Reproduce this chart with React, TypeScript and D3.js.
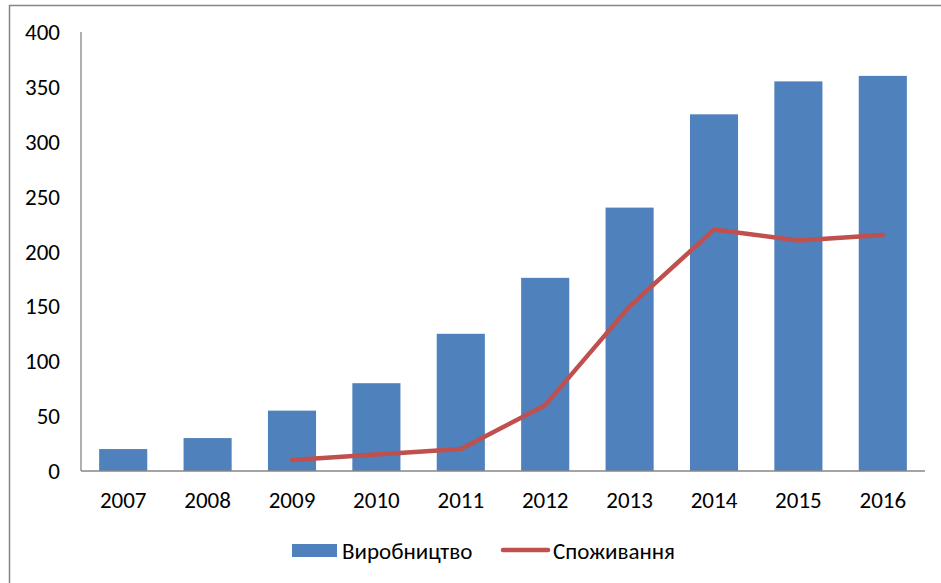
import React from "react";
import * as d3 from "d3";

const years = ["2007", "2008", "2009", "2010", "2011", "2012", "2013", "2014", "2015", "2016"];
const production = [20, 30, 55, 80, 125, 176, 240, 325, 355, 360];
const consumptionYears = ["2009", "2010", "2011", "2012", "2013", "2014", "2015", "2016"];
const consumption = [10, 15, 20, 60, 150, 220, 210, 215];
const yTicks = [0, 50, 100, 150, 200, 250, 300, 350, 400];
const seriesNames = ["Виробництво", "Споживання"];

const W = 941, H = 583;
const margin = { left: 81, right: 16, top: 32, bottom: 112 };
const FONT = "Carlito, Calibri, 'Open Sans', sans-serif";
const FS = 23;

export default function App() {
  const x = d3.scaleBand().domain(years).range([margin.left, W - margin.right]).paddingInner(0.43).paddingOuter(0.215);
  const xc = d3.scaleBand().domain(years).range([margin.left, W - margin.right]);
  const y = d3.scaleLinear().domain([0, 400]).range([H - margin.bottom, margin.top]);
  const line = d3.line<number>()
    .x((_, i) => (xc(consumptionYears[i]) as number) + xc.bandwidth() / 2)
    .y((d) => y(d));
  const blue = "#4F81BD", red = "#C0504D", axis = "#868686";
  return (
    <svg width={W} height={H} style={{ position: "fixed", left: 0, top: 0, background: "#fff" }}>
      <rect x={9.5} y={5.5} width={W + 20} height={H + 20} fill="#fff" stroke={axis} strokeWidth={1.5} />
      {production.map((v, i) => (
        <rect key={years[i]} x={x(years[i])} y={y(v)} width={x.bandwidth()} height={y(0) - y(v)} fill={blue} />
      ))}
      <line x1={margin.left} x2={margin.left} y1={y(400)} y2={y(0)} stroke={axis} strokeWidth={1.3} />
      <line x1={margin.left} x2={W - margin.right} y1={y(0)} y2={y(0)} stroke={axis} strokeWidth={1.3} />
      <path d={line(consumption) || ""} fill="none" stroke={red} strokeWidth={4.5} strokeLinejoin="round" strokeLinecap="round" />
      {yTicks.map((t) => (
        <text key={t} x={60} y={y(t)} dy="0.35em" textAnchor="end" fontFamily={FONT} fontSize={FS} fill="#000">{t}</text>
      ))}
      {years.map((yr) => (
        <text key={yr} x={(xc(yr) as number) + xc.bandwidth() / 2} y={500} dy="0.35em" textAnchor="middle" fontFamily={FONT} fontSize={FS} fill="#000">{yr}</text>
      ))}
      <rect x={292} y={544} width={45} height={13} fill={blue} />
      <text x={342} y={550.5} dy="0.35em" fontFamily={FONT} fontSize={FS} fill="#000">{seriesNames[0]}</text>
      <line x1={503} x2={548} y1={550} y2={550} stroke={red} strokeWidth={4.5} strokeLinecap="round" />
      <text x={553} y={550.5} dy="0.35em" fontFamily={FONT} fontSize={FS} fill="#000">{seriesNames[1]}</text>
    </svg>
  );
}
